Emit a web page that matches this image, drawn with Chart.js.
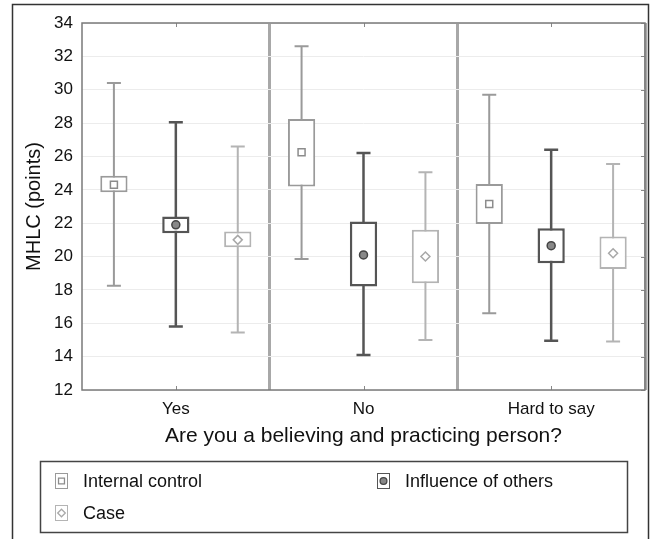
<!DOCTYPE html>
<html>
<head>
<meta charset="utf-8">
<script src="https://cdn.jsdelivr.net/npm/chart.js@4"></script>
<style>
  html, body { margin: 0; padding: 0; background: #fff; }
  #wrap { width: 653px; height: 539px; position: relative; }
</style>
</head>
<body>
<div id="wrap"><canvas id="mhlcChart" width="653" height="539"></canvas></div>
<script>
// categories and series
const categories = ['Yes', 'No', 'Hard to say'];
const seriesNames = ['Internal control', 'Influence of others', 'Case'];
const yTicks = [12, 14, 16, 18, 20, 22, 24, 26, 28, 30, 32, 34];

// mean, box (low/high) and whiskers (min/max) per category
const internalMean = [24.3, 26.25, 23.15];
const internalBoxLow = [23.85, 24.2, 21.95];
const internalBoxHigh = [24.85, 28.25, 24.35];
const internalMin = [18.25, 19.85, 16.6];
const internalMax = [30.4, 32.6, 29.7];

const othersMean = [21.9, 20.1, 20.65];
const othersBoxLow = [21.4, 18.2, 19.6];
const othersBoxHigh = [22.4, 22.1, 21.7];
const othersMin = [15.8, 14.1, 14.95];
const othersMax = [28.05, 26.2, 26.4];

const caseMean = [21.0, 20.0, 20.2];
const caseBoxLow = [20.55, 18.4, 19.25];
const caseBoxHigh = [21.5, 21.6, 21.2];
const caseMin = [15.45, 15.0, 14.9];
const caseMax = [26.6, 25.05, 25.55];

const FONT = "'Liberation Sans', Arial, sans-serif";

function boxes(lo, hi) {
  return lo.map((v, i) => [v, hi[i]]);
}

// whiskers behind the boxes, mean markers on top, then frame + legend
const boxPlotExtras = {
  id: 'boxPlotExtras',
  beforeDatasetsDraw(chart) {
    const ctx = chart.ctx;
    const y = chart.scales.y;
    chart.data.datasets.forEach((ds, i) => {
      const meta = chart.getDatasetMeta(i);
      meta.data.forEach((bar, j) => {
        const top = y.getPixelForValue(ds.whiskerMax[j]);
        const bot = y.getPixelForValue(ds.whiskerMin[j]);
        ctx.save();
        ctx.strokeStyle = ds.borderColor;
        ctx.lineWidth = ds.borderWidth;
        ctx.beginPath();
        ctx.moveTo(bar.x, top);
        ctx.lineTo(bar.x, bot);
        ctx.moveTo(bar.x - 7, top);
        ctx.lineTo(bar.x + 7, top);
        ctx.moveTo(bar.x - 7, bot);
        ctx.lineTo(bar.x + 7, bot);
        ctx.stroke();
        ctx.restore();
      });
    });
  },
  afterDatasetsDraw(chart) {
    const ctx = chart.ctx;
    const y = chart.scales.y;
    chart.data.datasets.forEach((ds, i) => {
      const meta = chart.getDatasetMeta(i);
      meta.data.forEach((bar, j) => {
        drawMarker(ctx, ds.marker, bar.x, y.getPixelForValue(ds.means[j]), ds);
      });
    });
  },
  afterDraw(chart) {
    const ctx = chart.ctx;
    const a = chart.chartArea;
    const x = chart.scales.x;
    const y = chart.scales.y;
    ctx.save();
    // small tick marks inside the plot
    ctx.strokeStyle = '#888';
    ctx.lineWidth = 1;
    ctx.beginPath();
    categories.forEach((c, i) => {
      const px = Math.round(x.getPixelForTick(i)) + 0.5;
      ctx.moveTo(px, a.bottom); ctx.lineTo(px, a.bottom - 4);
      ctx.moveTo(px, a.top); ctx.lineTo(px, a.top + 4);
    });
    yTicks.forEach(v => {
      const py = Math.round(y.getPixelForValue(v)) + 0.5;
      ctx.moveTo(a.right, py); ctx.lineTo(a.right - 4, py);
    });
    ctx.stroke();
    // plot border
    ctx.strokeStyle = '#7a7a7a';
    ctx.lineWidth = 1.5;
    ctx.strokeRect(a.left, a.top, a.right - a.left, a.bottom - a.top);
    // outer frame
    ctx.strokeStyle = '#333';
    ctx.lineWidth = 1.5;
    ctx.strokeRect(12.5, 4.5, 636, 600);
    // legend
    ctx.strokeStyle = '#444';
    ctx.lineWidth = 1.5;
    ctx.strokeRect(40.5, 461.5, 587, 71);
    const spots = [[55, 481], [377, 481], [55, 513]];
    ctx.font = '18px ' + FONT;
    ctx.textBaseline = 'middle';
    chart.data.datasets.forEach((ds, i) => {
      const [lx, ly] = spots[i];
      ctx.strokeStyle = ds.borderColor;
      ctx.lineWidth = 1;
      ctx.fillStyle = '#fff';
      ctx.fillRect(lx, ly - 8, 13, 16);
      ctx.strokeRect(lx + 0.5, ly - 7.5, 12, 15);
      drawMarker(ctx, ds.marker, lx + 6.5, ly, ds, 0.85);
      ctx.fillStyle = '#111';
      ctx.fillText(ds.label, lx + 28, ly + 1);
    });
    ctx.restore();
  }
};

function drawMarker(ctx, kind, cx, cy, ds, k) {
  k = k || 1;
  ctx.save();
  ctx.strokeStyle = ds.markerStroke;
  ctx.lineWidth = 1.5 * k;
  ctx.fillStyle = ds.markerFill;
  ctx.beginPath();
  if (kind === 'square') {
    const h = 3.5 * k;
    ctx.rect(cx - h, cy - h, 2 * h, 2 * h);
  } else if (kind === 'circle') {
    ctx.arc(cx, cy, 4 * k, 0, Math.PI * 2);
  } else {
    const h = 4.5 * k;
    ctx.moveTo(cx, cy - h);
    ctx.lineTo(cx + h, cy);
    ctx.lineTo(cx, cy + h);
    ctx.lineTo(cx - h, cy);
    ctx.closePath();
  }
  ctx.fill();
  ctx.stroke();
  ctx.restore();
}

const ctx = document.getElementById('mhlcChart').getContext('2d');

new Chart(ctx, {
  type: 'bar',
  data: {
    labels: categories,
    datasets: [
      {
        label: seriesNames[0],
        data: boxes(internalBoxLow, internalBoxHigh),
        means: internalMean,
        whiskerMin: internalMin,
        whiskerMax: internalMax,
        marker: 'square',
        markerStroke: '#8c8c8c',
        markerFill: '#fff',
        backgroundColor: '#fff',
        borderColor: '#9a9a9a',
        borderWidth: 2,
        borderSkipped: false
      },
      {
        label: seriesNames[1],
        data: boxes(othersBoxLow, othersBoxHigh),
        means: othersMean,
        whiskerMin: othersMin,
        whiskerMax: othersMax,
        marker: 'circle',
        markerStroke: '#444',
        markerFill: '#888',
        backgroundColor: '#fff',
        borderColor: '#555',
        borderWidth: 2.5,
        borderSkipped: false
      },
      {
        label: seriesNames[2],
        data: boxes(caseBoxLow, caseBoxHigh),
        means: caseMean,
        whiskerMin: caseMin,
        whiskerMax: caseMax,
        marker: 'diamond',
        markerStroke: '#a8a8a8',
        markerFill: '#fff',
        backgroundColor: '#fff',
        borderColor: '#b4b4b4',
        borderWidth: 2,
        borderSkipped: false
      }
    ]
  },
  options: {
    responsive: false,
    animation: false,
    categoryPercentage: 0.99,
    barPercentage: 0.44,
    layout: { padding: { left: 0, right: 8, top: 23, bottom: 89 } },
    plugins: {
      legend: { display: false },
      tooltip: { enabled: false }
    },
    scales: {
      x: {
        afterFit: s => { s.height = 60; },
        grid: {
          offset: true,
          drawTicks: false,
          color: '#a8a8a8',
          lineWidth: c => (c.index === 0 || c.index === categories.length) ? 0 : 3
        },
        border: { display: false },
        ticks: { color: '#111', font: { family: FONT, size: 17 }, padding: 9 },
        title: {
          display: true,
          text: 'Are you a believing and practicing person?',
          color: '#111',
          font: { family: FONT, size: 21 },
          padding: { top: 0, bottom: 1 }
        }
      },
      y: {
        min: 12,
        max: 34,
        afterFit: s => { s.width = 82; },
        afterBuildTicks: s => { s.ticks = yTicks.map(v => ({ value: v })); },
        grid: { drawTicks: false, color: '#ececec', lineWidth: 1 },
        border: { display: false },
        ticks: { color: '#111', font: { family: FONT, size: 17 }, padding: 9 },
        title: {
          display: true,
          text: 'MHLC (points)',
          color: '#111',
          font: { family: FONT, size: 20 },
          padding: { top: 22, bottom: 0 }
        }
      }
    }
  },
  plugins: [boxPlotExtras]
});
</script>
</body>
</html>
